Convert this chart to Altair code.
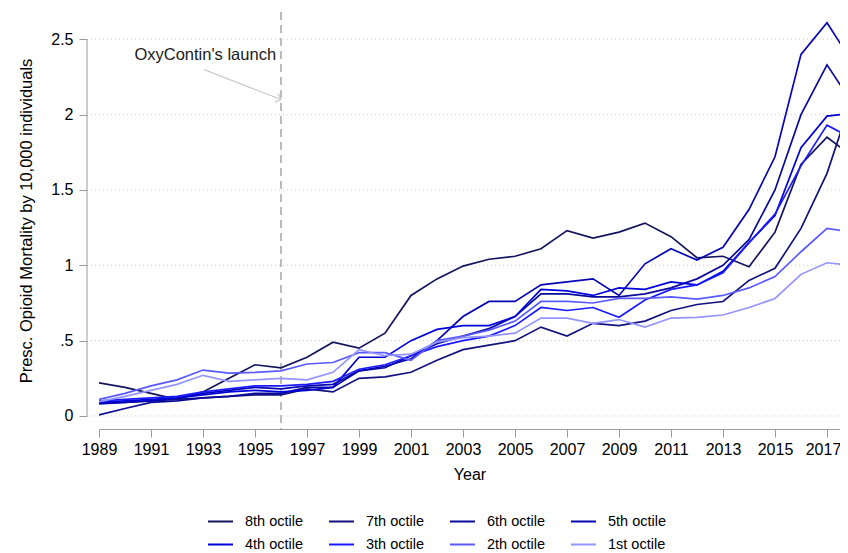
import altair as alt
import pandas as pd

years = list(range(1989, 2019))
octiles = ["8th octile", "7th octile", "6th octile", "5th octile",
           "4th octile", "3th octile", "2th octile", "1st octile"]
colors = ["#14145e", "#12127e", "#0a0a9a", "#0505b4",
          "#0000d8", "#1a1aff", "#5a5aff", "#9494ff"]

oct8 = [0.22, 0.19, 0.15, 0.11, 0.16, 0.25, 0.34, 0.32, 0.39, 0.49, 0.45, 0.55, 0.80, 0.91, 0.995,
        1.04, 1.06, 1.11, 1.23, 1.18, 1.22, 1.28, 1.19, 1.05, 1.06, 0.99, 1.22, 1.67, 1.85, 1.72]
oct7 = [0.085, 0.09, 0.10, 0.11, 0.12, 0.13, 0.14, 0.14, 0.18, 0.16, 0.25, 0.26, 0.29, 0.37, 0.44,
        0.47, 0.50, 0.59, 0.53, 0.615, 0.60, 0.63, 0.70, 0.74, 0.76, 0.90, 0.98, 1.245, 1.61, 2.13]
oct6 = [0.007, 0.05, 0.09, 0.10, 0.12, 0.13, 0.15, 0.15, 0.19, 0.19, 0.30, 0.32, 0.40, 0.48, 0.53,
        0.58, 0.66, 0.81, 0.81, 0.79, 0.79, 0.81, 0.85, 0.91, 1.00, 1.17, 1.50, 2.00, 2.33, 2.07]
oct5 = [0.08, 0.09, 0.10, 0.12, 0.15, 0.17, 0.19, 0.18, 0.20, 0.21, 0.30, 0.33, 0.38, 0.50, 0.66,
        0.76, 0.76, 0.87, 0.89, 0.91, 0.80, 1.01, 1.11, 1.035, 1.12, 1.37, 1.72, 2.40, 2.61, 2.34]
oct4 = [0.09, 0.10, 0.11, 0.12, 0.14, 0.16, 0.17, 0.16, 0.17, 0.19, 0.39, 0.39, 0.50, 0.575, 0.60,
        0.60, 0.66, 0.84, 0.83, 0.80, 0.85, 0.84, 0.89, 0.87, 0.96, 1.15, 1.33, 1.78, 1.99, 2.01]
oct3 = [0.10, 0.11, 0.12, 0.13, 0.16, 0.18, 0.20, 0.20, 0.21, 0.23, 0.31, 0.34, 0.40, 0.46, 0.50,
        0.53, 0.60, 0.72, 0.70, 0.72, 0.655, 0.77, 0.84, 0.87, 0.95, 1.15, 1.34, 1.66, 1.93, 1.84]
oct2 = [0.11, 0.15, 0.20, 0.24, 0.305, 0.285, 0.29, 0.30, 0.345, 0.355, 0.42, 0.42, 0.37, 0.50, 0.53,
        0.57, 0.63, 0.76, 0.76, 0.75, 0.78, 0.78, 0.79, 0.775, 0.80, 0.85, 0.925, 1.09, 1.245, 1.22]
oct1 = [0.095, 0.13, 0.17, 0.21, 0.27, 0.23, 0.24, 0.25, 0.24, 0.29, 0.44, 0.40, 0.41, 0.49, 0.52,
        0.53, 0.55, 0.65, 0.65, 0.615, 0.64, 0.59, 0.65, 0.655, 0.67, 0.72, 0.78, 0.94, 1.017, 1.00]

series = [oct8, oct7, oct6, oct5, oct4, oct3, oct2, oct1]

y_ticks = [0, 0.5, 1, 1.5, 2, 2.5]
x_ticks = list(range(1989, 2018, 2))
launch_year = 1996
annotation = "OxyContin's launch"

rows = []
for k, (lab, vals) in enumerate(zip(octiles, series)):
    for yr, v in zip(years, vals):
        rows.append({"year": yr, "value": v, "octile": lab, "ord": k})
df = pd.DataFrame(rows)

W, H = 741, 417
FONT = "Liberation Sans"
xscale = alt.Scale(domain=[1989, 2017.5], nice=False, zero=False)
yscale = alt.Scale(domain=[-0.0863, 2.681], nice=False, zero=False)

grid = alt.Chart(pd.DataFrame({"value": y_ticks})).mark_rule(
    color="#cfcfcf", strokeDash=[1, 3], strokeWidth=1
).encode(y=alt.Y("value:Q", scale=yscale), x=alt.value(-8), x2=alt.value(W))

yaxis_line = alt.Chart(pd.DataFrame({"value": [y_ticks[0]], "value2": [y_ticks[-1]]})).mark_rule(
    color="#9a9a9a", strokeWidth=1
).encode(y=alt.Y("value:Q", scale=yscale), y2="value2:Q", x=alt.value(-12))

vline = alt.Chart(pd.DataFrame({"year": [launch_year]})).mark_rule(
    color="#8f8f8f", strokeDash=[8, 5], strokeWidth=1.2
).encode(x=alt.X("year:Q", scale=xscale), y=alt.value(0), y2=alt.value(H))

arrow = alt.Chart(pd.DataFrame({"year": [1993.03], "value": [2.30],
                                "year2": [launch_year], "value2": [2.10]})).mark_rule(
    color="#c4c4c4", strokeWidth=1.1
).encode(x=alt.X("year:Q", scale=xscale), y=alt.Y("value:Q", scale=yscale),
         x2="year2:Q", y2="value2:Q")

arrowhead = alt.Chart(pd.DataFrame({"year": [launch_year], "value": [2.10]})).mark_point(
    shape="M-1,-1L0,0L-1,1", filled=False, size=90, angle=21, color="#c4c4c4",
    strokeWidth=1.1, opacity=1
).encode(x=alt.X("year:Q", scale=xscale), y=alt.Y("value:Q", scale=yscale))

label = alt.Chart(pd.DataFrame({"year": [1995.81], "value": [2.395], "t": [annotation]})).mark_text(
    align="right", baseline="middle", font=FONT, fontSize=16.5, color="#1a1a1a"
).encode(x=alt.X("year:Q", scale=xscale), y=alt.Y("value:Q", scale=yscale), text="t:N")

lines = alt.Chart(df).mark_line(strokeWidth=1.7, clip=True).encode(
    x=alt.X("year:Q", scale=xscale, title="Year",
            axis=alt.Axis(values=x_ticks, format="d", tickSize=8, labelPadding=4, grid=False,
                          domainColor="#9a9a9a", tickColor="#9a9a9a", labelFontSize=16,
                          labelOffset={"condition": {"test": "datum.value == 2017", "value": -4},
                                       "value": 0},
                          titleFontSize=16, titleFontWeight="normal", titlePadding=9,
                          labelFont=FONT, titleFont=FONT, labelColor="#000000",
                          titleColor="#000000", labelFlush=False)),
    y=alt.Y("value:Q", scale=yscale, title="Presc. Opioid Mortality by 10,000 individuals",
            axis=alt.Axis(values=y_ticks, offset=12, domain=False, grid=False, tickSize=8,
                          labelPadding=6, tickColor="#9a9a9a", labelFontSize=16,
                          labelExpr="datum.value == 0.5 ? '.5' : format(datum.value, '~g')",
                          titleFontSize=16.5, titleFontWeight="normal", titlePadding=16,
                          labelFont=FONT, titleFont=FONT, labelColor="#000000",
                          titleColor="#000000", labelFlush=False)),
    color=alt.Color("octile:N", scale=alt.Scale(domain=octiles, range=colors),
                    legend=alt.Legend(orient="none", legendX=108, legendY=496, columns=4,
                                      direction="horizontal",
                                      symbolType="stroke", symbolSize=625, symbolStrokeWidth=2,
                                      labelFontSize=14.5, labelFont=FONT, labelOffset=11,
                                      columnPadding=21, rowPadding=3, title=None, padding=0,
                                      labelColor="#000000")),
    order=alt.Order("ord:Q"),
)

chart = alt.layer(grid, yaxis_line, vline, arrow, arrowhead, label, lines).properties(
    width=W, height=H,
    autosize=alt.AutoSizeParams(type="none"),
    padding={"left": 91, "top": 4, "right": 0, "bottom": 123},
    background="white",
).configure_view(stroke=None)

chart.save("out.html", embed_options={"renderer": "svg", "actions": False})
